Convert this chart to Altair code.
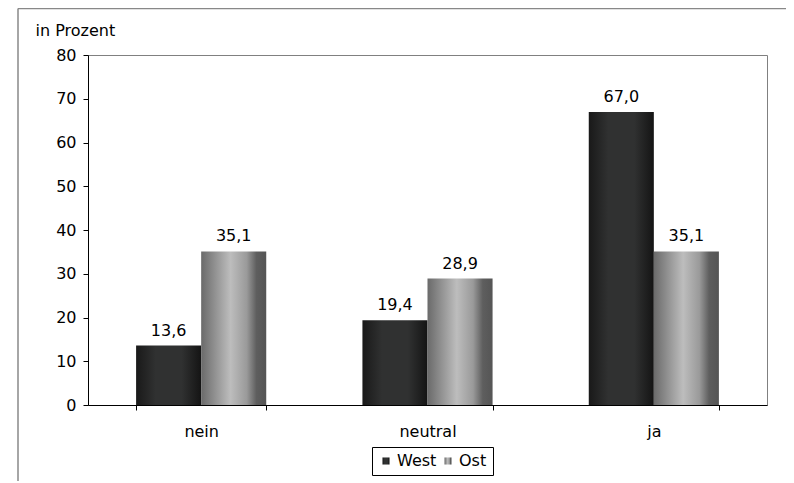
import altair as alt
import pandas as pd

categories = ["nein", "neutral", "ja"]
series = ["West", "Ost"]
west = [13.6, 19.4, 67.0]
ost = [35.1, 28.9, 35.1]

rows = []
for c, w, o in zip(categories, west, ost):
    rows.append({"category": c, "series": "West", "value": w})
    rows.append({"category": c, "series": "Ost", "value": o})
df = pd.DataFrame(rows)

FONT = "DejaVu Sans"

grad_west = ("{gradient: 'linear', x1: 0, y1: 0, x2: 1, y2: 0, stops: ["
             "{offset: 0, color: '#191919'}, {offset: 0.3, color: '#303131'}, "
             "{offset: 0.7, color: '#303131'}, {offset: 1, color: '#141414'}]}")
grad_ost = ("{gradient: 'linear', x1: 0, y1: 0, x2: 1, y2: 0, stops: ["
            "{offset: 0, color: '#6a6a6a'}, {offset: 0.45, color: '#bdbdbd'}, "
            "{offset: 0.7, color: '#9a9a9a'}, {offset: 0.85, color: '#5e5e5e'}, "
            "{offset: 1, color: '#555555'}]}")

x_enc = alt.X("category:N", sort=categories,
              scale=alt.Scale(paddingInner=0.425, paddingOuter=0.2125),
              axis=alt.Axis(title=None, labelAngle=0, tickBand="extent",
                            labelPadding=13))
xo_enc = alt.XOffset("series:N", sort=series,
                     scale=alt.Scale(domain=series, paddingInner=0, paddingOuter=0))
y_enc = alt.Y("value:Q", scale=alt.Scale(domain=[0, 80], nice=False),
              axis=alt.Axis(values=list(range(0, 81, 10)), grid=False,
                            title="in Prozent", titleAngle=0, titleX=-53,
                            titleY=-20, titleAlign="left",
                            titleBaseline="alphabetic", titleFontWeight="normal",
                            titleFontSize=16, titleFont=FONT, titleColor="black",
                            labelPadding=7))

base = alt.Chart(df).encode(x=x_enc, xOffset=xo_enc, y=y_enc)

bars = base.mark_bar(stroke=None).encode(
    color=alt.Color("series:N", sort=series,
                    scale=alt.Scale(domain=series,
                                    range=[alt.ExprRef(expr=grad_west),
                                           alt.ExprRef(expr=grad_ost)]),
                    legend=alt.Legend(title=None, orient="none", legendX=284,
                                      legendY=392, direction="horizontal",
                                      strokeColor="black", padding=6,
                                      symbolType="square", symbolSize=50,
                                      symbolStrokeWidth=0, labelFontSize=16,
                                      labelFont=FONT, labelColor="black",
                                      labelOffset=3, columnPadding=3))
)

labels = base.transform_calculate(
    label="replace(format(datum.value, '.1f'), '.', ',')"
).mark_text(baseline="alphabetic", dy=-10, fontSize=16, font=FONT,
            color="black").encode(text="label:N")

frame_df = pd.DataFrame({"a": [0]})
frame_left = alt.Chart(frame_df).mark_rule(color="#888888", strokeWidth=1.5).encode(
    x=alt.value(-70), y=alt.value(-46.5), y2=alt.value(500))
frame_top = alt.Chart(frame_df).mark_rule(color="#888888", strokeWidth=1.5).encode(
    x=alt.value(-70), x2=alt.value(760), y=alt.value(-46.5))

chart = alt.layer(frame_left, frame_top, bars, labels).properties(
    width=679, height=350,
    background="white",
    autosize=alt.AutoSizeParams(type="none"),
    padding={"left": 80, "top": 47, "right": 19, "bottom": 76},
).configure_view(
    stroke="#808080", strokeWidth=1
).configure_axis(
    domainColor="black", tickColor="black", tickSize=5, labelFontSize=16,
    labelFont=FONT, labelColor="black", domainWidth=1, tickWidth=1
)

chart.save("out.html", embed_options={"renderer": "svg", "actions": False})
